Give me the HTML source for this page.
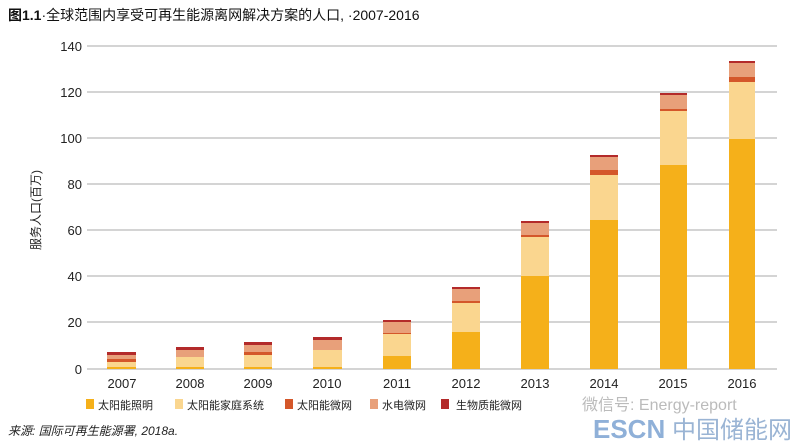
<!DOCTYPE html><html><head><meta charset="utf-8"><style>body{margin:0;background:#fff}svg{display:block}text{font-family:"Liberation Sans","Noto Sans CJK SC",sans-serif}</style></head><body>
<svg width="800" height="442" viewBox="0 0 800 442">
<text x="8" y="20" font-size="14" fill="#111"><tspan font-weight="bold">图1.1</tspan>·全球范围内享受可再生能源离网解决方案的人口, ·2007-2016</text>
<g stroke="#aaa" stroke-width="1">
<line x1="87" y1="46" x2="777" y2="46"/><line x1="87" y1="92" x2="777" y2="92"/><line x1="87" y1="138" x2="777" y2="138"/><line x1="87" y1="184" x2="777" y2="184"/><line x1="87" y1="230" x2="777" y2="230"/><line x1="87" y1="276" x2="777" y2="276"/><line x1="87" y1="322" x2="777" y2="322"/><line x1="87" y1="369" x2="777" y2="369"/>
</g>
<g font-size="13" fill="#222" text-anchor="end">
<text x="82" y="51">140</text><text x="82" y="97">120</text><text x="82" y="143">100</text><text x="82" y="189">80</text><text x="82" y="235">60</text><text x="82" y="281">40</text><text x="82" y="327">20</text><text x="82" y="374">0</text>
</g>
<text transform="translate(40,210) rotate(-90)" font-size="12" fill="#222" text-anchor="middle">服务人口(百万)</text>
<g id="bars">
<rect x="107" y="367" width="29" height="2" fill="#F5B01A"/><rect x="107" y="362" width="29" height="5" fill="#FAD68F"/><rect x="107" y="359" width="29" height="3" fill="#D4572A"/><rect x="107" y="355" width="29" height="4" fill="#E8A07A"/><rect x="107" y="352" width="29" height="3" fill="#B32A2A"/>
<rect x="176" y="367" width="28" height="2" fill="#F5B01A"/><rect x="176" y="357" width="28" height="10" fill="#FAD68F"/><rect x="176" y="350" width="28" height="7" fill="#E8A07A"/><rect x="176" y="347" width="28" height="3" fill="#B32A2A"/>
<rect x="244" y="367" width="28" height="2" fill="#F5B01A"/><rect x="244" y="355" width="28" height="12" fill="#FAD68F"/><rect x="244" y="352" width="28" height="3" fill="#D4572A"/><rect x="244" y="345" width="28" height="7" fill="#E8A07A"/><rect x="244" y="342" width="28" height="3" fill="#B32A2A"/>
<rect x="313" y="367" width="29" height="2" fill="#F5B01A"/><rect x="313" y="350" width="29" height="17" fill="#FAD68F"/><rect x="313" y="340" width="29" height="10" fill="#E8A07A"/><rect x="313" y="337" width="29" height="3" fill="#B32A2A"/>
<rect x="383" y="356" width="28" height="13" fill="#F5B01A"/><rect x="383" y="334" width="28" height="22" fill="#FAD68F"/><rect x="383" y="333" width="28" height="1" fill="#D4572A"/><rect x="383" y="322" width="28" height="11" fill="#E8A07A"/><rect x="383" y="320" width="28" height="2" fill="#B32A2A"/>
<rect x="452" y="332" width="28" height="37" fill="#F5B01A"/><rect x="452" y="303" width="28" height="29" fill="#FAD68F"/><rect x="452" y="301" width="28" height="2" fill="#D4572A"/><rect x="452" y="289" width="28" height="12" fill="#E8A07A"/><rect x="452" y="287" width="28" height="2" fill="#B32A2A"/>
<rect x="521" y="276" width="28" height="93" fill="#F5B01A"/><rect x="521" y="237" width="28" height="39" fill="#FAD68F"/><rect x="521" y="235" width="28" height="2" fill="#D4572A"/><rect x="521" y="223" width="28" height="12" fill="#E8A07A"/><rect x="521" y="221" width="28" height="2" fill="#B32A2A"/>
<rect x="590" y="220" width="28" height="149" fill="#F5B01A"/><rect x="590" y="175" width="28" height="45" fill="#FAD68F"/><rect x="590" y="170" width="28" height="5" fill="#D4572A"/><rect x="590" y="157" width="28" height="13" fill="#E8A07A"/><rect x="590" y="155" width="28" height="2" fill="#B32A2A"/>
<rect x="660" y="165" width="27" height="204" fill="#F5B01A"/><rect x="660" y="111" width="27" height="54" fill="#FAD68F"/><rect x="660" y="109" width="27" height="2" fill="#D4572A"/><rect x="660" y="95" width="27" height="14" fill="#E8A07A"/><rect x="660" y="93" width="27" height="2" fill="#B32A2A"/>
<rect x="729" y="139" width="26" height="230" fill="#F5B01A"/><rect x="729" y="82" width="26" height="57" fill="#FAD68F"/><rect x="729" y="77" width="26" height="5" fill="#D4572A"/><rect x="729" y="63" width="26" height="14" fill="#E8A07A"/><rect x="729" y="61" width="26" height="2" fill="#B32A2A"/>
</g>
<g font-size="13" fill="#222" text-anchor="middle">
<text x="122" y="388">2007</text><text x="190" y="388">2008</text><text x="258" y="388">2009</text><text x="327" y="388">2010</text><text x="397" y="388">2011</text><text x="466" y="388">2012</text><text x="535" y="388">2013</text><text x="604" y="388">2014</text><text x="673" y="388">2015</text><text x="742" y="388">2016</text>
</g>
<g font-size="11" fill="#222">
<rect x="86" y="399" width="8" height="10" fill="#F5B01A"/><text x="98" y="409">太阳能照明</text>
<rect x="175" y="399" width="8" height="10" fill="#FAD68F"/><text x="187" y="409">太阳能家庭系统</text>
<rect x="285" y="399" width="8" height="10" fill="#D4572A"/><text x="297" y="409">太阳能微网</text>
<rect x="370" y="399" width="8" height="10" fill="#E8A07A"/><text x="382" y="409">水电微网</text>
<rect x="441" y="399" width="8" height="10" fill="#B32A2A"/><text x="456" y="409">生物质能微网</text>
</g>
<text x="582" y="410" font-size="16" fill="#bbb">微信号: Energy-report</text>
<text x="8" y="435" font-size="12" font-style="italic" fill="#222">来源: 国际可再生能源署, 2018a.</text>
<text x="593" y="438" font-size="26" font-weight="bold" fill="#8fb0d8">ESCN</text>
<text x="672" y="438" font-size="24" fill="#9ab4d4">中国储能网</text>
</svg>
</body></html>
